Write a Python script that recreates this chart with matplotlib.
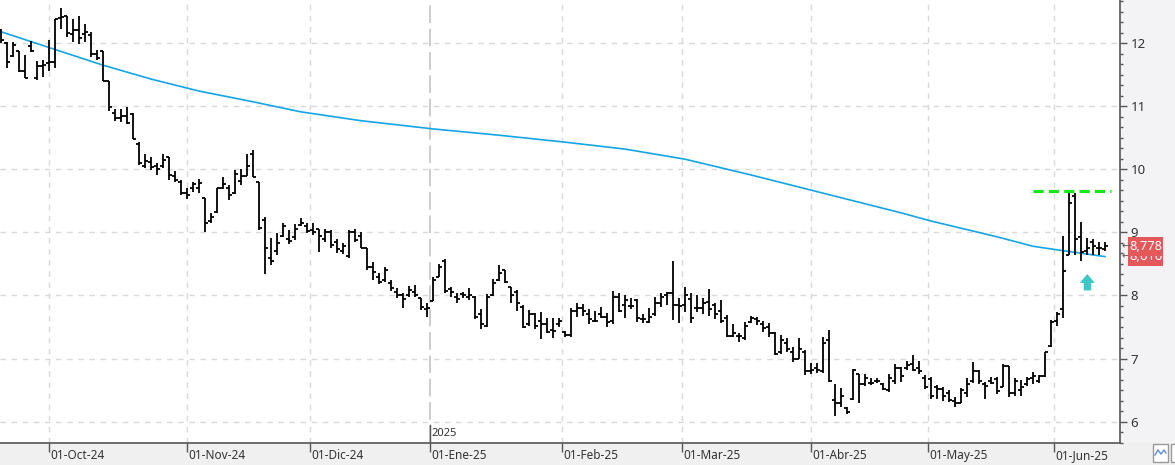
import matplotlib
matplotlib.use("Agg")
import matplotlib.pyplot as plt
import matplotlib.transforms as mtransforms
from matplotlib.patches import Rectangle, Polygon
from matplotlib.ticker import MultipleLocator, NullFormatter
import numpy as np

# daily OHLC, 19-Sep-24 .. 12-Jun-25 (trading days)
opens = [12.20, 12.00, 11.79, 11.88, 11.55, 11.95, 11.45, 11.64, 11.68, 11.70,
         12.40, 12.43, 12.15, 12.20, 12.15, 12.13, 11.83, 11.87, 11.40, 10.90,
         10.82, 10.85, 10.87, 10.40, 10.05, 10.12, 10.05, 10.05, 10.19, 9.90,
         9.80, 9.63, 9.70, 9.70, 9.55, 9.18, 9.33, 9.70, 9.70, 9.62,
         9.82, 9.90, 10.24, 9.80, 9.20, 8.60, 8.70, 8.95, 8.90, 8.93,
         9.12, 9.10, 9.03, 9.05, 8.90, 9.00, 8.85, 8.70, 8.62, 9.00,
         8.95, 8.75, 8.45, 8.30, 8.25, 8.20, 8.05, 8.00, 8.00, 8.05,
         7.96, 7.78, 7.92, 8.30, 8.55, 8.10, 7.98, 8.02, 7.98, 7.98,
         7.70, 7.52, 8.00, 8.25, 8.40, 8.13, 8.05, 7.82, 7.55, 7.70,
         7.60, 7.55, 7.45, 7.55, 7.42, 7.37, 7.75, 7.80, 7.70, 7.60,
         7.70, 7.66, 7.60, 7.98, 7.85, 7.83, 7.93, 7.62, 7.58, 7.70,
         7.88, 8.00, 8.04, 7.85, 7.85, 7.95, 7.80, 7.80, 7.90, 7.85,
         7.75, 7.65, 7.35, 7.35, 7.32, 7.58, 7.62, 7.55, 7.50, 7.40,
         7.10, 7.25, 7.10, 7.00, 7.10, 6.80, 6.85, 6.80, 7.30, 6.35,
         6.30, 6.22, 6.36, 6.75, 6.60, 6.62, 6.65, 6.60, 6.50, 6.65,
         6.85, 6.85, 6.92, 6.85, 6.70, 6.68, 6.55, 6.52, 6.45, 6.32,
         6.30, 6.45, 6.65, 6.80, 6.60, 6.65, 6.68, 6.55, 6.88, 6.45,
         6.50, 6.60, 6.70, 6.65, 6.72, 7.20, 7.60, 7.78, 8.64, 9.57,
         8.92, 8.70, 8.85, 8.76, 8.73]
highs = [12.22, 12.01, 12.01, 11.88, 11.81, 12.04, 11.71, 11.73, 12.05, 12.38,
         12.56, 12.43, 12.38, 12.43, 12.31, 12.18, 11.89, 11.87, 11.40, 10.96,
         10.96, 10.99, 10.89, 10.44, 10.24, 10.19, 10.10, 10.24, 10.19, 9.97,
         9.83, 9.70, 9.80, 9.85, 9.55, 9.31, 9.70, 9.88, 9.75, 9.99,
         10.00, 10.24, 10.31, 9.80, 9.24, 8.91, 8.99, 9.15, 9.04, 9.13,
         9.23, 9.15, 9.15, 9.05, 9.05, 9.04, 8.89, 8.83, 9.04, 9.05,
         9.01, 8.75, 8.53, 8.36, 8.45, 8.25, 8.12, 8.04, 8.15, 8.17,
         7.96, 7.88, 8.29, 8.50, 8.58, 8.13, 8.04, 8.06, 8.12, 7.99,
         7.79, 8.02, 8.26, 8.48, 8.40, 8.13, 8.09, 7.85, 7.77, 7.72,
         7.74, 7.64, 7.64, 7.64, 7.44, 7.80, 7.88, 7.86, 7.79, 7.75,
         7.82, 7.72, 8.07, 8.04, 8.01, 7.96, 7.94, 7.71, 7.80, 7.98,
         8.04, 8.06, 8.55, 7.96, 8.13, 8.04, 8.01, 7.96, 8.10, 7.88,
         7.93, 7.69, 7.55, 7.40, 7.58, 7.67, 7.66, 7.59, 7.56, 7.42,
         7.37, 7.33, 7.18, 7.33, 7.14, 6.93, 6.93, 7.34, 7.45, 6.60,
         6.53, 6.23, 6.84, 6.76, 6.76, 6.69, 6.69, 6.61, 6.76, 6.91,
         6.87, 6.96, 7.06, 6.96, 6.74, 6.71, 6.58, 6.55, 6.50, 6.39,
         6.53, 6.69, 6.95, 6.82, 6.63, 6.71, 6.71, 6.91, 6.88, 6.69,
         6.66, 6.71, 6.79, 6.74, 7.10, 7.61, 7.74, 8.94, 9.62, 9.62,
         9.17, 8.91, 8.89, 8.84, 8.84]
lows = [12.00, 11.60, 11.78, 11.54, 11.44, 11.86, 11.42, 11.46, 11.56, 11.61,
        12.23, 12.09, 12.01, 11.99, 12.02, 11.78, 11.73, 11.40, 10.92, 10.77,
        10.75, 10.71, 10.48, 10.07, 10.02, 9.99, 9.91, 10.02, 9.83, 9.80,
        9.59, 9.53, 9.64, 9.62, 9.01, 9.15, 9.31, 9.69, 9.51, 9.61,
        9.75, 9.89, 9.88, 9.04, 8.34, 8.48, 8.64, 8.93, 8.82, 8.88,
        9.10, 8.99, 8.96, 8.69, 8.85, 8.75, 8.67, 8.66, 8.59, 8.85,
        8.75, 8.40, 8.25, 8.18, 8.21, 8.07, 7.96, 7.80, 7.98, 7.98,
        7.77, 7.66, 7.91, 8.29, 8.04, 7.98, 7.88, 7.96, 7.93, 7.63,
        7.47, 7.50, 7.99, 8.23, 8.20, 7.88, 7.75, 7.48, 7.52, 7.47,
        7.31, 7.40, 7.33, 7.50, 7.34, 7.34, 7.66, 7.67, 7.55, 7.58,
        7.64, 7.50, 7.55, 7.74, 7.64, 7.79, 7.58, 7.56, 7.56, 7.67,
        7.82, 7.85, 7.61, 7.56, 7.74, 7.56, 7.74, 7.71, 7.67, 7.63,
        7.56, 7.34, 7.34, 7.26, 7.29, 7.56, 7.53, 7.42, 7.34, 7.06,
        7.07, 7.10, 6.95, 7.00, 6.74, 6.76, 6.77, 6.77, 6.63, 6.09,
        6.23, 6.12, 6.34, 6.30, 6.57, 6.58, 6.61, 6.50, 6.47, 6.60,
        6.63, 6.82, 6.80, 6.76, 6.52, 6.36, 6.36, 6.33, 6.31, 6.23,
        6.30, 6.39, 6.61, 6.60, 6.36, 6.60, 6.44, 6.55, 6.39, 6.41,
        6.41, 6.57, 6.60, 6.61, 6.71, 7.18, 7.52, 7.64, 8.64, 8.64,
        8.55, 8.64, 8.64, 8.64, 8.71]
closes = [12.05, 11.70, 11.97, 11.55, 11.45, 11.88, 11.64, 11.66, 11.70, 12.38,
          12.41, 12.16, 12.20, 12.08, 12.17, 11.82, 11.77, 11.40, 10.99, 10.81,
          10.85, 10.73, 10.48, 10.10, 10.13, 10.04, 10.00, 10.15, 9.91, 9.83,
          9.63, 9.60, 9.76, 9.78, 9.15, 9.25, 9.70, 9.77, 9.60, 9.92,
          9.90, 10.05, 9.88, 9.07, 8.76, 8.55, 8.83, 9.10, 8.87, 9.05,
          9.15, 9.02, 9.00, 8.95, 9.00, 8.80, 8.73, 8.78, 9.00, 8.88,
          8.76, 8.45, 8.38, 8.22, 8.40, 8.12, 8.00, 7.95, 8.08, 8.00,
          7.82, 7.80, 8.25, 8.45, 8.07, 8.05, 7.95, 8.00, 8.00, 7.66,
          7.55, 7.98, 8.20, 8.35, 8.22, 8.00, 7.88, 7.50, 7.70, 7.52,
          7.55, 7.42, 7.44, 7.60, 7.37, 7.75, 7.80, 7.75, 7.62, 7.60,
          7.66, 7.58, 7.98, 7.75, 7.93, 7.83, 7.65, 7.62, 7.66, 7.88,
          7.98, 8.04, 7.85, 7.83, 8.00, 7.65, 7.80, 7.88, 7.79, 7.70,
          7.60, 7.35, 7.40, 7.35, 7.52, 7.65, 7.60, 7.48, 7.40, 7.08,
          7.30, 7.15, 7.00, 7.15, 6.80, 6.82, 6.82, 7.25, 6.65, 6.30,
          6.40, 6.15, 6.82, 6.60, 6.70, 6.62, 6.65, 6.52, 6.70, 6.85,
          6.72, 6.90, 6.82, 6.80, 6.55, 6.40, 6.52, 6.40, 6.35, 6.30,
          6.50, 6.60, 6.80, 6.65, 6.57, 6.62, 6.48, 6.88, 6.45, 6.65,
          6.55, 6.68, 6.72, 6.72, 7.10, 7.58, 7.70, 8.39, 9.46, 8.89,
          8.69, 8.76, 8.78, 8.75, 8.78]

# moving average read at a few bar indices
ma_idx = [0, 8, 17, 25, 33, 42, 50, 60, 72, 83, 94, 104, 114, 125, 135, 145,
          150, 155, 166, 172, 177, 184]
ma_val = [12.18, 11.93, 11.65, 11.43, 11.24, 11.07, 10.91, 10.77, 10.64, 10.54,
          10.43, 10.32, 10.16, 9.91, 9.67, 9.43, 9.31, 9.18, 8.93, 8.78, 8.71, 8.616]

month_pos = [8, 31, 51.5, 71.5, 93.5, 113.5, 135, 154.5, 175.5]
month_labels = ["01-Oct-24", "01-Nov-24", "01-Dic-24", "01-Ene-25", "01-Feb-25",
                "01-Mar-25", "01-Abr-25", "01-May-25", "01-Jun-25"]
year_pos = 71.5
resist = 9.66
resist_from, resist_to = 172, 185
last_close = 8.778
last_ma = 8.616

W, H = 1175, 465
fig = plt.figure(figsize=(W / 100, H / 100), dpi=100)
fig.patch.set_facecolor("white")
axr = 1119.6 / W
fig.patches.append(Rectangle((axr, 0), 1 - axr, 1, transform=fig.transFigure,
                             facecolor="#f3f3f6", edgecolor="none", zorder=-5))
fig.patches.append(Rectangle((0, 0), 1, 22 / H, transform=fig.transFigure,
                             facecolor="#f0f0f0", edgecolor="none", zorder=-5))

ax = fig.add_axes([0, 22 / H, axr, 443 / H])
ax.set_zorder(1)
ax.set_xlim(-1 / 6, 186.43)
ax.set_ylim(5.662, 12.683)

# grid
for v in range(6, 13):
    ax.axhline(v, color="#d9d9d9", lw=1, ls=(0, (4, 4)), zorder=0)
for p in month_pos:
    if p == year_pos:
        ax.axvline(p, color="#cccccc", lw=1.4, ls=(0, (9, 3)), zorder=0)
    else:
        ax.axvline(p, color="#d9d9d9", lw=1, ls=(0, (4, 4)), zorder=0)

# OHLC bars
x = np.arange(len(closes))
ax.vlines(x, lows, highs, color="black", lw=1.3, zorder=3)
ax.hlines(opens, x - 0.42, x, color="black", lw=1.3, zorder=3)
ax.hlines(closes, x, x + 0.42, color="black", lw=1.3, zorder=3)

# moving average
ax.plot(ma_idx, ma_val, color="#14a5e6", lw=1.2, zorder=2)

# resistance line
ax.hlines(resist, resist_from, resist_to, color="#19e619", lw=2.3,
          ls=(0, (3.2, 1.6)), zorder=4)

# cyan arrow
ax.add_patch(Polygon([(179.8, 8.20), (181.05, 8.34), (182.3, 8.20), (181.7, 8.20),
                      (181.7, 8.08), (180.45, 8.08), (180.45, 8.20)],
                     closed=True, facecolor="#3cc9c6", edgecolor="none", zorder=4))

# axes styling
for s in ["top", "left"]:
    ax.spines[s].set_visible(False)
for s in ["right", "bottom"]:
    ax.spines[s].set_color("#555555")
    ax.spines[s].set_linewidth(1.2)
ax.yaxis.tick_right()
ax.set_yticks(range(6, 13))
ax.yaxis.set_minor_locator(MultipleLocator(1 / 6))
ax.tick_params(axis="y", which="major", direction="out", length=5, width=1,
               color="#555555", labelsize=9.5, labelcolor="#333333", pad=3)
ax.tick_params(axis="y", which="minor", direction="out", length=2.5, width=1,
               color="#555555")
for t in ax.get_yticklabels():
    t.set_family("Noto Sans")
ax.set_xticks(month_pos)
ax.xaxis.set_major_formatter(NullFormatter())
ax.tick_params(axis="x", direction="out", length=6.5, width=1, color="#555555")

trans = mtransforms.blended_transform_factory(ax.transData, ax.transAxes)
for p, lab in zip(month_pos, month_labels):
    ax.text(p + 0.3, -0.029, lab, transform=trans, ha="left", va="center",
            fontsize=8.5, color="#333333", family="Noto Sans", clip_on=False)
ax.text(year_pos + 0.3, 0.022, "2025", transform=trans, ha="left", va="center",
        fontsize=8, color="#333333", family="Noto Sans")
ax.plot([year_pos, year_pos], [0, 0.04], transform=trans, color="#555555", lw=1)

# price labels on the right axis (8,616 partly hidden under 8,778, as in the source)
rtrans = mtransforms.blended_transform_factory(ax.transAxes, ax.transData)
bx0 = 1128 / 1119.6
bw = 35 / 1119.6
bh = 19.5 / 63.1
for val, txt, z in [(last_ma, "8,616", 6), (last_close, "8,778", 8)]:
    ax.add_patch(Rectangle((bx0, val - bh / 2), bw, bh, transform=rtrans,
                           facecolor="#e5585a", edgecolor="none", clip_on=False,
                           zorder=z))
    ax.text(bx0 + bw / 2, val, txt, transform=rtrans, ha="center", va="center",
            fontsize=9.3, color="white", family="Noto Sans", clip_on=False,
            zorder=z + 1)
    ax.text(1.0015, val, "\u2190", transform=rtrans, ha="left", va="center",
            fontsize=7, color="#555555", clip_on=False, zorder=z)

# small icon bottom right
fig.patches.append(Rectangle((1153 / W, 3 / H), 15 / W, 18 / H, transform=fig.transFigure,
                             facecolor="white", edgecolor="#9a9a9a", lw=1, zorder=2))
fig.lines.append(plt.Line2D([1155 / W, 1158 / W, 1161 / W, 1164 / W, 1166 / W],
                            [10 / H, 15 / H, 11 / H, 15 / H, 12 / H],
                            transform=fig.transFigure, color="#5a8fd0", lw=1,
                            zorder=3))
fig.patches.append(Rectangle((1171 / W, 3 / H), 8 / W, 18 / H, transform=fig.transFigure,
                             facecolor="white", edgecolor="#9a9a9a", lw=1, zorder=2))

fig.savefig("out.png", dpi=100)
